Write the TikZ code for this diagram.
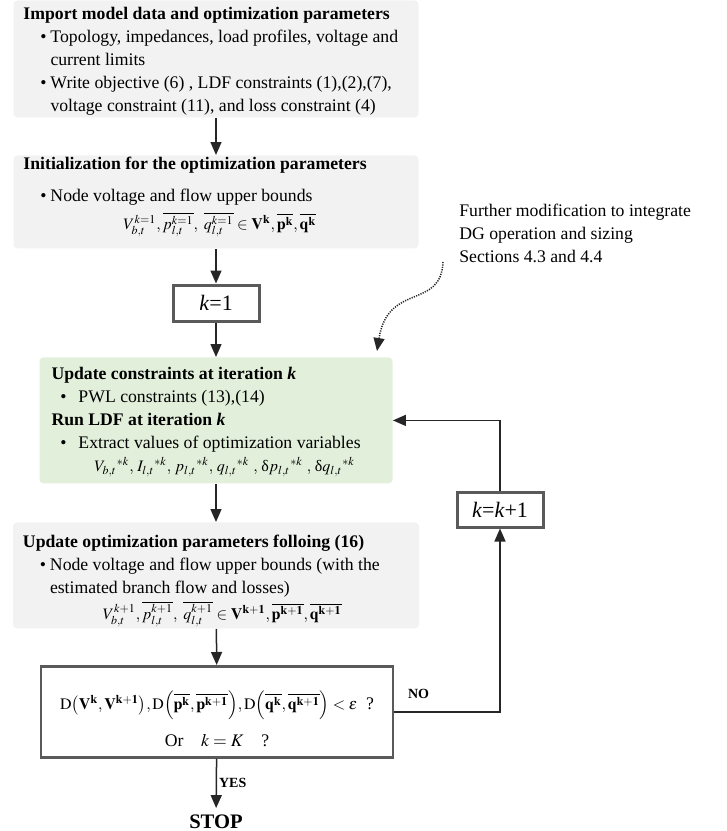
\documentclass[tikz,border=0pt]{standalone}
\usepackage{mathptmx}
\usepackage{fontspec}
\setmainfont{Liberation Serif}
\usetikzlibrary{arrows.meta}

\definecolor{boxgray}{HTML}{F2F2F2}
\definecolor{boxgreen}{HTML}{E2EFDA}
\definecolor{framegray}{HTML}{5A5A5A}
\definecolor{linegray}{HTML}{262626}

% box contents: {height}{width}{top gap}{text}
\newcommand{\boxtext}[4]{\parbox[c][#1][t]{#2}{\raggedright\vspace*{#3}#4}}
% bullet line with hanging indent: [bullet offset]{text}
\newcommand{\bitem}[2][8.5pt]{\par\noindent\hangindent=13.5pt\hangafter=1%
  \hspace*{#1}\makebox[\dimexpr13.5pt-#1\relax][l]{\textbullet}#2\par}
% math line in the smaller size
\newcommand{\mline}[2]{\noindent\hspace*{#1}{\fontsize{8}{11.5}\selectfont$#2$}\par}
\newcommand{\kb}{\textbf{\textit{k}}}

\begin{document}
\begin{tikzpicture}[x=0.5pt,y=-0.5pt,
    txt/.style={font=\fontsize{8.85}{11.5}\selectfont},
    infobox/.style={txt,anchor=north,fill=boxgray,rounded corners=2pt,
      inner xsep=5pt,inner ysep=0pt},
    kbox/.style={draw=framegray,line width=1.5pt,fill=white,
      font=\fontsize{11}{13}\selectfont,minimum width=43pt,inner sep=0pt},
    arr/.style={draw=linegray,line width=0.75pt,-{Triangle[width=5.5pt,length=6.5pt]}},
    lbl/.style={font=\fontsize{7}{8}\selectfont\bfseries,inner sep=1pt}]
  \useasboundingbox (0,0) rectangle (727,831);

  \node[infobox] (imp) at (216,0) {\boxtext{58.5pt}{192.5pt}{3.3pt}{%
    \noindent\textbf{Import model data and optimization parameters}\par
    \bitem{Topology, impedances, load profiles, voltage and\newline current limits}%
    \bitem{Write objective (6) , LDF constraints (1),(2),(7),\newline voltage constraint (11), and loss constraint (4)}}};

  \node[infobox] (init) at (216,155) {\boxtext{46.5pt}{192.5pt}{0.8pt}{%
    \noindent\textbf{Initialization for the optimization parameters}\par\vspace{4.6pt}%
    \bitem{Node voltage and flow upper bounds}\vspace{2.5pt}%
    \mline{50pt}{V_{b,t}^{k=1},\overline{p_{l,t}^{k=1}},\ \overline{q_{l,t}^{k=1}}\in\mathbf{V}^{\mathbf{k}},\overline{\mathbf{p}^{\mathbf{k}}},\overline{\mathbf{q}^{\mathbf{k}}}}}};

  \node[kbox,minimum height=18pt] (kone) at (216,303) {\textit{k}=1};

  \node[infobox,fill=boxgreen,inner xsep=6pt] (upd) at (216,357) {\boxtext{63pt}{164.5pt}{4.8pt}{%
    \noindent\textbf{Update constraints at iteration \kb}\par
    \bitem[4.5pt]{PWL constraints (13),(14)}%
    \noindent\textbf{Run LDF at iteration \kb}\par
    \bitem[4.5pt]{Extract values of optimization variables}%
    \mline{21.5pt}{V_{b,t}{}^{*k},\,I_{l,t}{}^{*k},\,p_{l,t}{}^{*k},\,q_{l,t}{}^{*k}\ ,\,\mbox{δ}p_{l,t}{}^{*k}\ ,\,\mbox{δ}q_{l,t}{}^{*k}}}};

  \node[infobox] (updpar) at (216,522) {\boxtext{53pt}{193pt}{6.3pt}{%
    \noindent\textbf{Update optimization parameters folloing (16)}\par
    \bitem{Node voltage and flow upper bounds (with the\newline estimated branch flow and losses)}\vspace{1.5pt}%
    \mline{40pt}{V_{b,t}^{k+1},\overline{p_{l,t}^{k+1}},\ \overline{q_{l,t}^{k+1}}\in\mathbf{V}^{\mathbf{k+1}},\overline{\mathbf{p}^{\mathbf{k+1}}},\overline{\mathbf{q}^{\mathbf{k+1}}}}}};

  \node[txt,anchor=north,draw=framegray,line width=1.25pt,fill=white,align=center,
    minimum width=176pt,minimum height=45.5pt,inner sep=2pt] (check) at (217,665) {%
    \rule{0pt}{16.5pt}{\fontsize{8}{11.5}\selectfont$\mathrm{D}{\left(\mathbf{V}^{\mathbf{k}},\mathbf{V}^{\mathbf{k+1}}\right)},\mathrm{D}{\left(\overline{\mathbf{p}^{\mathbf{k}}},\overline{\mathbf{p}^{\mathbf{k+1}}}\right)},\mathrm{D}{\left(\overline{\mathbf{q}^{\mathbf{k}}},\overline{\mathbf{q}^{\mathbf{k+1}}}\right)}<\varepsilon$}\ \ ?\\[7pt]
    Or\quad $k=K$\quad ?};

  \node[font=\fontsize{10.3}{12}\selectfont\bfseries,inner sep=3.3pt] (stop) at (216,822) {STOP};

  \node[kbox,minimum height=17.5pt] (kinc) at (500,509.5) {\textit{k}=\textit{k}+1};

  \node[txt,anchor=north west,align=left,inner sep=0pt] (note) at (459,204) {%
    Further modification to integrate\\DG operation and sizing\\Sections 4.3 and 4.4};

  \coordinate (dstart) at (443,262);
  \coordinate (dend) at (377,351);

  \draw[arr] (imp) -- (init);
  \draw[arr] (init) -- (kone);
  \draw[arr] (kone) -- (upd);
  \draw[arr] (upd) -- (updpar);
  \draw[arr] (updpar) -- (check);
  \draw[arr] (check) -- node[lbl,right,pos=0.5] {YES} (stop);
  \draw[arr] (check.east) -| node[lbl,above,pos=0.115,yshift=5pt] {NO} (kinc.south);
  \draw[arr] (kinc.north) |- (upd.east);
  \draw[arr,dash pattern=on 0.6pt off 0.6pt] (dstart) .. controls (441,310) and (388,282) .. (dend);
\end{tikzpicture}
\end{document}
